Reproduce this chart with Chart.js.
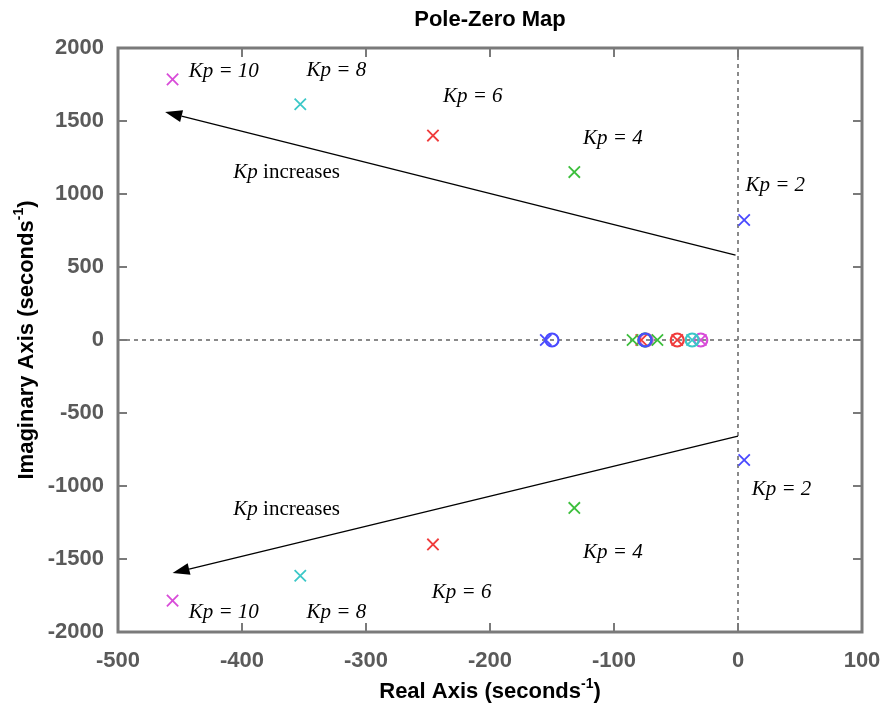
<!DOCTYPE html>
<html>
<head>
<meta charset="utf-8">
<script src="https://cdn.jsdelivr.net/npm/chart.js@4.4.0/dist/chart.umd.min.js"></script>
<style>
  html, body { margin: 0; padding: 0; background: #fff; }
</style>
</head>
<body>
<canvas id="pz" width="889" height="716"></canvas>
<script>
// gains and colours (one per Kp)
const gains = ['2', '4', '6', '8', '10'];
const gainColors = ['#4a4aff', '#3cbf3c', '#f03c3c', '#3cc8c8', '#d84cd8'];

// poles (x marks)
const poleRe = [[5, 5, -155], [-132, -132, -85, -65], [-246, -246, -78, -49], [-353, -353, -37], [-456, -456, -30]];
const poleIm = [[822, -822, 0], [1150, -1150, 0, 0], [1400, -1400, 0, 0], [1615, -1615, 0], [1785, -1785, 0]];

// zeros (o marks)
const zeroRe = [[-150, -75], [-75], [-49], [-37, -75], [-30, -74]];
const zeroIm = [[0, 0], [0], [0], [0, 0], [0, 0]];

// axis ticks
const xTicks = [-500, -400, -300, -200, -100, 0, 100];
const yTicks = [-2000, -1500, -1000, -500, 0, 500, 1000, 1500, 2000];

// text labels in data units: [x, y, text]
const gainNotes = [
  [-443, 1836, 'Kp = 10'], [-348, 1849, 'Kp = 8'], [-238, 1671, 'Kp = 6'],
  [-125, 1377, 'Kp = 4'], [6, 1055, 'Kp = 2'],
  [-443, -1863, 'Kp = 10'], [-348, -1863, 'Kp = 8'], [-247, -1726, 'Kp = 6'],
  [-125, -1452, 'Kp = 4'], [11, -1027, 'Kp = 2']
];
const increaseNotes = [[-407, 1144], [-407, -1164]];
// arrows: [fromX, fromY, toX, toY]
const arrows = [[-2, 582, -462, 1562], [0, -658, -456, -1596]];

const datasets = [];
gains.forEach((g, i) => {
  datasets.push({
    label: 'poles Kp=' + g,
    data: poleRe[i].map((x, j) => ({ x: x, y: poleIm[i][j] })),
    pointStyle: 'crossRot',
    radius: 8,
    borderColor: gainColors[i],
    borderWidth: 1.8,
    showLine: false
  });
  datasets.push({
    label: 'zeros Kp=' + g,
    data: zeroRe[i].map((x, j) => ({ x: x, y: zeroIm[i][j] })),
    pointStyle: 'circle',
    radius: 6.5,
    borderColor: gainColors[i],
    backgroundColor: 'rgba(0,0,0,0)',
    borderWidth: 2.2,
    showLine: false
  });
});

function supWidths(ctx, parts) {
  ctx.font = 'bold 22px "Liberation Sans", Arial';
  const w1 = ctx.measureText(parts[0]).width;
  const w3 = ctx.measureText(parts[2]).width;
  ctx.font = 'bold 14px "Liberation Sans", Arial';
  const w2 = ctx.measureText(parts[1]).width;
  return [w1, w2, w3];
}

// axis title with a raised "-1"
function drawSup(ctx, cx, cy, parts) {
  const w = supWidths(ctx, parts);
  let x = cx - (w[0] + w[1] + w[2]) / 2;
  ctx.fillStyle = '#000';
  ctx.textAlign = 'left';
  ctx.textBaseline = 'middle';
  ctx.font = 'bold 22px "Liberation Sans", Arial';
  ctx.fillText(parts[0], x, cy);
  x += w[0];
  ctx.font = 'bold 14px "Liberation Sans", Arial';
  ctx.fillText(parts[1], x, cy - 8);
  x += w[1];
  ctx.font = 'bold 22px "Liberation Sans", Arial';
  ctx.fillText(parts[2], x, cy);
}

const pzDecor = {
  id: 'pzDecor',
  beforeDatasetsDraw(chart) {
    const ctx = chart.ctx, a = chart.chartArea;
    const xs = chart.scales.x, ys = chart.scales.y;
    ctx.save();
    ctx.strokeStyle = '#8a8a8a';
    ctx.lineWidth = 2;
    ctx.setLineDash([4, 4]);
    const x0 = xs.getPixelForValue(0), y0 = ys.getPixelForValue(0);
    ctx.beginPath();
    ctx.moveTo(x0, a.top); ctx.lineTo(x0, a.bottom);
    ctx.moveTo(a.left, y0); ctx.lineTo(a.right, y0);
    ctx.stroke();
    ctx.restore();
  },
  afterDraw(chart) {
    const ctx = chart.ctx, a = chart.chartArea;
    const xs = chart.scales.x, ys = chart.scales.y;
    ctx.save();

    // frame and inward ticks
    ctx.strokeStyle = '#7a7a7a';
    ctx.lineWidth = 3;
    ctx.strokeRect(a.left, a.top, a.right - a.left, a.bottom - a.top);
    ctx.lineWidth = 2;
    ctx.beginPath();
    xTicks.forEach(v => {
      const px = xs.getPixelForValue(v);
      ctx.moveTo(px, a.bottom); ctx.lineTo(px, a.bottom - 9);
      ctx.moveTo(px, a.top); ctx.lineTo(px, a.top + 9);
    });
    yTicks.forEach(v => {
      const py = ys.getPixelForValue(v);
      ctx.moveTo(a.left, py); ctx.lineTo(a.left + 9, py);
      ctx.moveTo(a.right, py); ctx.lineTo(a.right - 9, py);
    });
    ctx.stroke();

    // arrows
    ctx.strokeStyle = '#000';
    ctx.fillStyle = '#000';
    ctx.lineWidth = 1.3;
    arrows.forEach(r => {
      const x1 = xs.getPixelForValue(r[0]), y1 = ys.getPixelForValue(r[1]);
      const x2 = xs.getPixelForValue(r[2]), y2 = ys.getPixelForValue(r[3]);
      const ang = Math.atan2(y2 - y1, x2 - x1);
      const L = 17, H = 6;
      const bx = x2 - L * Math.cos(ang), by = y2 - L * Math.sin(ang);
      ctx.beginPath();
      ctx.moveTo(x1, y1); ctx.lineTo(bx, by);
      ctx.stroke();
      ctx.beginPath();
      ctx.moveTo(x2, y2);
      ctx.lineTo(bx + H * Math.sin(ang), by - H * Math.cos(ang));
      ctx.lineTo(bx - H * Math.sin(ang), by + H * Math.cos(ang));
      ctx.closePath();
      ctx.fill();
    });

    // Kp notes
    ctx.textAlign = 'left';
    ctx.textBaseline = 'middle';
    ctx.fillStyle = '#000';
    ctx.font = 'italic 21px "Liberation Serif", "Times New Roman", serif';
    gainNotes.forEach(n => {
      ctx.fillText(n[2], xs.getPixelForValue(n[0]), ys.getPixelForValue(n[1]));
    });
    increaseNotes.forEach(n => {
      const px = xs.getPixelForValue(n[0]), py = ys.getPixelForValue(n[1]);
      ctx.font = 'italic 21px "Liberation Serif", "Times New Roman", serif';
      ctx.fillText('Kp', px, py);
      const w = ctx.measureText('Kp').width;
      ctx.font = '21px "Liberation Serif", "Times New Roman", serif';
      ctx.fillText(' increases', px + w, py);
    });

    // title and axis titles
    ctx.textAlign = 'center';
    ctx.font = 'bold 22px "Liberation Sans", Arial';
    ctx.fillText('Pole-Zero Map', (a.left + a.right) / 2, 20);
    drawSup(ctx, (a.left + a.right) / 2, 692, ['Real Axis (seconds', '-1', ')']);
    ctx.translate(27, (a.top + a.bottom) / 2);
    ctx.rotate(-Math.PI / 2);
    drawSup(ctx, 0, 0, ['Imaginary Axis (seconds', '-1', ')']);
    ctx.restore();
  }
};

const tickFont = { family: '"Liberation Sans", Arial', size: 22, weight: 'bold' };
const plainNum = v => String(v);

new Chart(document.getElementById('pz'), {
  type: 'scatter',
  data: { datasets: datasets },
  options: {
    responsive: false,
    animation: false,
    layout: { padding: { top: 48, right: 27, left: 0, bottom: 0 } },
    plugins: { legend: { display: false }, tooltip: { enabled: false } },
    scales: {
      x: {
        type: 'linear',
        min: xTicks[0],
        max: xTicks[xTicks.length - 1],
        afterBuildTicks: s => { s.ticks = xTicks.map(v => ({ value: v })); },
        afterFit: s => { s.height = 84; },
        grid: { display: false },
        border: { display: false },
        ticks: { color: '#5a5a5a', font: tickFont, padding: 8, maxRotation: 0, callback: plainNum }
      },
      y: {
        type: 'linear',
        min: yTicks[0],
        max: yTicks[yTicks.length - 1],
        afterBuildTicks: s => { s.ticks = yTicks.map(v => ({ value: v })); },
        afterFit: s => { s.width = 118; },
        grid: { display: false },
        border: { display: false },
        ticks: { color: '#5a5a5a', font: tickFont, padding: 6, callback: plainNum }
      }
    }
  },
  plugins: [pzDecor]
});
</script>
</body>
</html>
